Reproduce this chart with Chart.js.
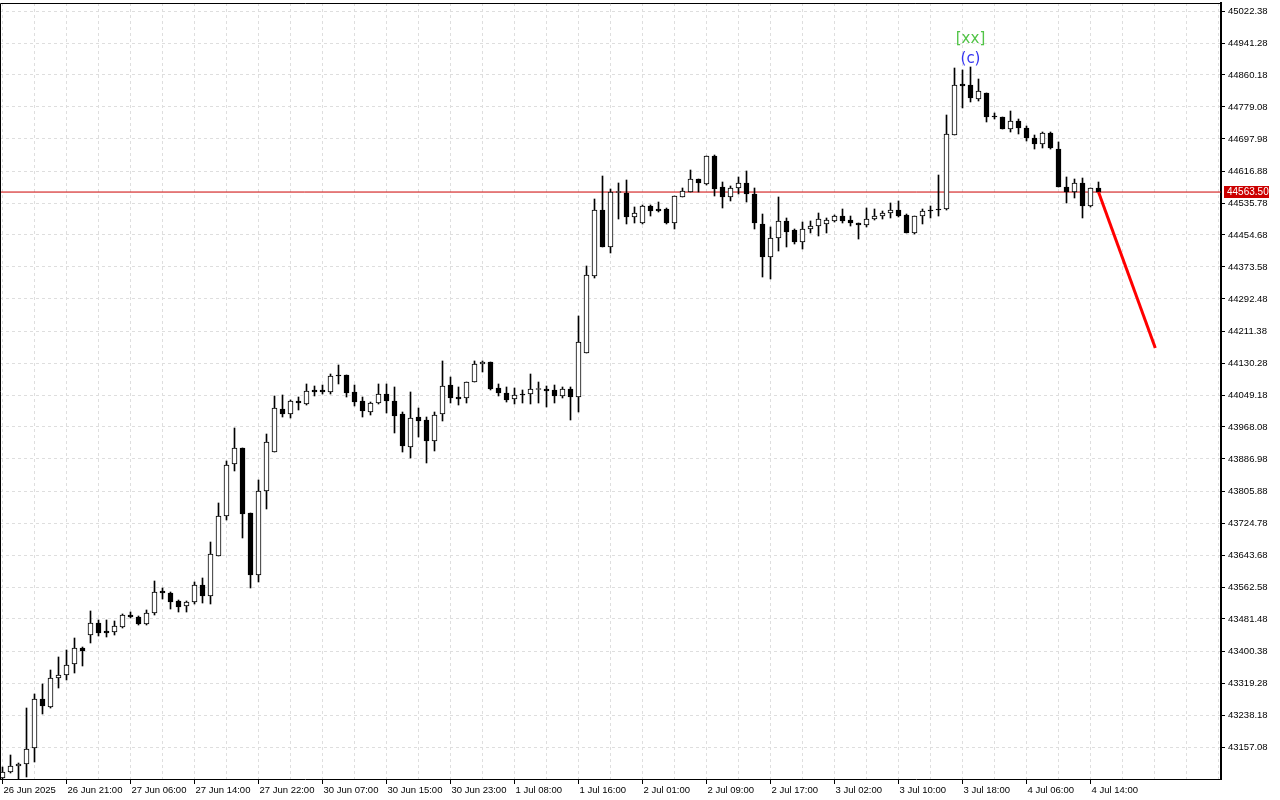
<!DOCTYPE html>
<html>
<head>
<meta charset="utf-8">
<script src="https://cdn.jsdelivr.net/npm/chart.js@4.4.1/dist/chart.umd.min.js"></script>
<style>
  html, body { margin: 0; padding: 0; background: #fff; }
</style>
</head>
<body>
<canvas id="chart" width="1280" height="800"></canvas>
<script>
// hourly bars, US30 26 Jun - 4 Jul 2025
const opens = [
  43078.5, 43093.7, 43108.9, 43114.0, 43154.6, 43278.7, 43258.5, 43332.0, 43339.6, 43367.4,
  43408.0, 43440.9, 43471.3, 43451.1, 43448.5, 43461.2, 43491.6, 43486.6, 43468.8, 43496.7,
  43552.4, 43547.4, 43527.1, 43514.4, 43524.6, 43567.7, 43539.8, 43641.2, 43742.5, 43874.3,
  43914.9, 43750.1, 43593.0, 43805.9, 43904.7, 44013.7, 44001.0, 44034.0, 44026.4, 44061.9,
  44061.9, 44056.8, 44099.9, 44099.9, 44056.8, 44034.0, 44006.1, 44028.9, 44051.7, 44034.0,
  44001.0, 43917.4, 43993.4, 43985.8, 43932.6, 44001.0, 44074.5, 44044.1, 44041.6, 44082.1,
  44127.8, 44132.8, 44066.9, 44054.3, 44039.0, 44051.7, 44051.7, 44063.1, 44064.4, 44061.9,
  44046.7, 44064.4, 44044.1, 44155.6, 44350.8, 44518.0, 44424.3, 44562.4, 44561.1, 44500.3,
  44485.1, 44528.2, 44520.6, 44520.6, 44485.1, 44551.0, 44563.7, 44596.6, 44583.9, 44654.9,
  44576.3, 44551.0, 44573.8, 44586.5, 44558.6, 44482.6, 44398.9, 44447.1, 44490.2, 44467.4,
  44436.9, 44469.9, 44477.5, 44482.6, 44490.2, 44502.8, 44492.7, 44485.1, 44480.0, 44495.2,
  44502.8, 44510.4, 44518.0, 44505.4, 44459.8, 44502.8, 44518.0, 44520.6, 44520.6, 44708.1,
  44837.4, 44834.8, 44799.4, 44814.6, 44756.3, 44753.7, 44723.3, 44743.6, 44725.9, 44700.5,
  44685.3, 44713.2, 44672.6, 44576.3, 44563.7, 44586.5, 44528.2, 44573.8
];
const highs = [
  43106.4, 43136.8, 43116.5, 43255.9, 43291.4, 43316.8, 43352.2, 43385.2, 43402.9, 43433.3,
  43410.5, 43501.8, 43479.0, 43479.0, 43476.4, 43494.2, 43499.2, 43489.1, 43504.3, 43577.8,
  43560.1, 43549.9, 43529.6, 43527.1, 43575.3, 43585.4, 43676.6, 43775.5, 43881.9, 43965.6,
  43914.9, 43750.1, 43833.8, 43950.3, 44046.7, 44049.2, 44036.5, 44044.1, 44077.1, 44072.0,
  44074.5, 44102.4, 44125.2, 44099.9, 44074.5, 44044.1, 44031.4, 44077.1, 44077.1, 44069.5,
  44006.1, 44056.8, 44016.2, 43993.4, 44006.1, 44135.4, 44094.8, 44069.5, 44082.1, 44135.4,
  44135.4, 44132.8, 44077.1, 44069.5, 44066.9, 44061.9, 44102.4, 44082.1, 44072.0, 44074.5,
  44069.5, 44069.5, 44249.4, 44376.1, 44545.9, 44604.2, 44571.3, 44586.5, 44594.1, 44525.7,
  44530.7, 44530.7, 44538.3, 44523.1, 44553.5, 44573.8, 44619.4, 44596.6, 44654.9, 44657.4,
  44589.0, 44578.9, 44601.7, 44616.9, 44573.8, 44507.9, 44475.0, 44551.0, 44497.8, 44469.9,
  44487.6, 44490.2, 44510.4, 44497.8, 44505.4, 44520.6, 44502.8, 44485.1, 44523.1, 44520.6,
  44515.5, 44535.8, 44540.9, 44507.9, 44502.8, 44520.6, 44528.2, 44606.7, 44758.8, 44877.9,
  44872.9, 44880.5, 44850.0, 44814.6, 44763.9, 44753.7, 44768.9, 44748.7, 44730.9, 44708.1,
  44715.7, 44715.7, 44690.4, 44601.7, 44596.6, 44599.1, 44573.8, 44589.0
];
const lows = [
  43076.0, 43091.2, 43076.0, 43081.1, 43119.1, 43240.7, 43255.9, 43306.6, 43326.9, 43344.6,
  43362.4, 43420.7, 43438.4, 43435.9, 43440.9, 43458.7, 43484.0, 43466.3, 43466.3, 43491.6,
  43532.2, 43506.8, 43499.2, 43499.2, 43519.5, 43522.0, 43519.5, 43641.2, 43732.4, 43856.6,
  43686.8, 43560.1, 43575.3, 43760.3, 43904.7, 43993.4, 43990.9, 44011.2, 44023.8, 44046.7,
  44051.7, 44051.7, 44077.1, 44044.1, 44021.3, 43993.4, 43998.5, 44026.4, 44003.6, 43952.9,
  43904.7, 43889.5, 43942.7, 43876.9, 43907.3, 43983.3, 44028.9, 44023.8, 44028.9, 44082.1,
  44107.5, 44061.9, 44046.7, 44031.4, 44026.4, 44028.9, 44026.4, 44028.9, 44018.8, 44028.9,
  44041.6, 43985.8, 44006.1, 44155.6, 44345.7, 44424.3, 44409.1, 44495.2, 44482.6, 44485.1,
  44482.6, 44502.8, 44513.0, 44482.6, 44469.9, 44551.0, 44563.7, 44563.7, 44581.4, 44553.5,
  44523.1, 44540.9, 44558.6, 44538.3, 44469.9, 44348.2, 44343.2, 44414.1, 44424.3, 44431.9,
  44419.2, 44459.8, 44452.2, 44459.8, 44487.6, 44485.1, 44477.5, 44444.5, 44475.0, 44492.7,
  44495.2, 44497.8, 44500.3, 44459.8, 44457.2, 44482.6, 44497.8, 44502.8, 44518.0, 44708.1,
  44776.6, 44791.8, 44794.3, 44741.1, 44748.7, 44723.3, 44715.7, 44710.7, 44692.9, 44672.6,
  44675.2, 44672.6, 44576.3, 44535.8, 44548.5, 44497.8, 44525.7, 44563.5
];
const closes = [
  43093.7, 43108.9, 43114.0, 43152.0, 43278.7, 43261.0, 43332.0, 43339.6, 43364.9, 43408.0,
  43400.4, 43471.3, 43446.0, 43446.0, 43463.7, 43491.6, 43486.6, 43468.8, 43496.7, 43549.9,
  43547.4, 43524.6, 43511.9, 43524.6, 43567.7, 43539.8, 43646.2, 43742.5, 43871.8, 43914.9,
  43747.6, 43593.0, 43805.9, 43930.1, 44016.2, 44001.0, 44034.0, 44028.9, 44059.3, 44056.8,
  44056.8, 44097.3, 44097.3, 44054.3, 44031.4, 44008.6, 44028.9, 44051.7, 44034.0, 43996.0,
  43919.9, 43990.9, 43983.3, 43932.6, 43998.5, 44072.0, 44041.6, 44039.0, 44082.1, 44127.8,
  44132.8, 44064.4, 44054.3, 44036.5, 44049.2, 44049.2, 44064.4, 44064.4, 44059.3, 44046.7,
  44064.4, 44044.1, 44183.5, 44353.3, 44518.0, 44424.3, 44563.7, 44563.7, 44500.3, 44510.4,
  44528.2, 44515.5, 44515.5, 44485.1, 44553.5, 44566.2, 44596.6, 44586.5, 44654.9, 44571.3,
  44551.0, 44573.8, 44586.5, 44558.6, 44485.1, 44398.9, 44447.1, 44490.2, 44462.3, 44436.9,
  44469.9, 44477.5, 44495.2, 44492.7, 44502.8, 44490.2, 44485.1, 44480.0, 44495.2, 44502.8,
  44510.4, 44518.0, 44502.8, 44459.8, 44502.8, 44515.5, 44515.5, 44518.0, 44710.7, 44834.8,
  44832.3, 44801.9, 44819.6, 44753.7, 44753.7, 44723.3, 44743.6, 44725.9, 44700.5, 44685.3,
  44713.2, 44675.2, 44576.3, 44563.7, 44586.5, 44528.2, 44573.8, 44563.5
];

// one label every 8 bars
const timeLabels = [
  '26 Jun 2025', '26 Jun 21:00', '27 Jun 06:00', '27 Jun 14:00', '27 Jun 22:00', '30 Jun 07:00',
  '30 Jun 15:00', '30 Jun 23:00', '1 Jul 08:00', '1 Jul 16:00', '2 Jul 01:00', '2 Jul 09:00',
  '2 Jul 17:00', '3 Jul 02:00', '3 Jul 10:00', '3 Jul 18:00', '4 Jul 06:00', '4 Jul 14:00'
];
const priceTicks = [
  43157.08, 43238.18, 43319.28, 43400.38, 43481.48, 43562.58, 43643.68, 43724.78,
  43805.88, 43886.98, 43968.08, 44049.18, 44130.28, 44211.38, 44292.48, 44373.58,
  44454.68, 44535.78, 44616.88, 44697.98, 44779.08, 44860.18, 44941.28, 45022.38
];
const lastPrice = 44563.50;
const forecastX = [137, 144.1];
const forecastY = [44563.5, 44168.3];
const waveBar = 121;
const waveLabel = '(c)';
const degreeLabel = '[xx]';

const bodies = opens.map((o, i) => ({ x: i, y: [o, closes[i]] }));
const wicks = lows.map((l, i) => ({ x: i, y: [l, highs[i]] }));
const bodyColors = opens.map((o, i) => closes[i] >= o ? '#ffffff' : '#000000');

const overlay = {
  id: 'overlay',
  afterDraw(chart) {
    const { ctx, chartArea: a, scales: { x, y } } = chart;
    ctx.save();
    // frame top / left
    ctx.strokeStyle = '#000';
    ctx.lineWidth = 1;
    ctx.beginPath();
    ctx.moveTo(a.left + 0.5, a.bottom);
    ctx.lineTo(a.left + 0.5, a.top + 0.5);
    ctx.lineTo(a.right, a.top + 0.5);
    ctx.stroke();
    // current price tag
    const py = Math.round(y.getPixelForValue(lastPrice));
    ctx.fillStyle = '#cc0000';
    ctx.fillRect(a.right + 3, py - 6, 45, 12);
    ctx.fillStyle = '#ffffff';
    ctx.font = '10px "Liberation Sans"';
    ctx.textBaseline = 'middle';
    ctx.textAlign = 'left';
    ctx.fillText(lastPrice.toFixed(2), a.right + 6, py + 0.5);
    // wave labels above the top
    const wx = x.getPixelForValue(waveBar);
    const wy = y.getPixelForValue(highs[waveBar]);
    ctx.textAlign = 'center';
    ctx.font = '15px "DejaVu Sans"';
    ctx.fillStyle = '#3434f0';
    ctx.fillText(waveLabel, wx, wy - 8);
    ctx.fillStyle = '#52c447';
    ctx.fillText(degreeLabel, wx, wy - 28);
    ctx.restore();
  }
};

const xTickVals = [];
for (let v = 0; v <= 152; v += 4) xTickVals.push(v);

new Chart(document.getElementById('chart').getContext('2d'), {
  type: 'bar',
  data: {
    datasets: [
      {
        type: 'line',
        data: forecastX.map((v, i) => ({ x: v, y: forecastY[i] })),
        borderColor: '#ff0000',
        borderWidth: 3,
        pointRadius: 0,
        order: 0
      },
      {
        data: bodies,
        backgroundColor: bodyColors,
        borderColor: '#000000',
        borderWidth: 1,
        borderSkipped: false,
        barThickness: 5,
        minBarLength: 1,
        grouped: false,
        order: 1
      },
      {
        data: wicks,
        backgroundColor: '#000000',
        barThickness: 1,
        grouped: false,
        order: 2
      },
      {
        type: 'line',
        data: [{ x: -1, y: lastPrice }, { x: 160, y: lastPrice }],
        borderColor: '#cc0000',
        borderWidth: 1,
        pointRadius: 0,
        order: 3
      }
    ]
  },
  options: {
    responsive: false,
    animation: false,
    devicePixelRatio: 1,
    layout: { padding: { top: 3, left: 0, right: 0, bottom: 0 } },
    plugins: {
      legend: { display: false },
      tooltip: { enabled: false }
    },
    scales: {
      x: {
        type: 'linear',
        min: -0.3125,
        max: 152.3125,
        offset: false,
        afterBuildTicks: s => { s.ticks = xTickVals.map(v => ({ value: v })); },
        afterFit: s => { s.height = 21; s.paddingLeft = 0; s.paddingRight = 0; },
        grid: {
          offset: false,
          color: '#dedede',
          tickLength: 5,
          tickColor: c => (c.tick && c.tick.label) ? '#000000' : 'rgba(0,0,0,0)'
        },
        border: { color: '#000000', width: 1, dash: [3, 3] },
        ticks: {
          autoSkip: false,
          maxRotation: 0,
          align: 'start',
          labelOffset: 1,
          padding: 1,
          color: '#000000',
          font: { family: 'Liberation Sans', size: 9.5 },
          callback: v => (v % 8 === 0 && v / 8 < timeLabels.length) ? timeLabels[v / 8] : ''
        }
      },
      y: {
        position: 'right',
        min: 43075.98,
        max: 45042.655,
        afterBuildTicks: s => { s.ticks = priceTicks.map(v => ({ value: v })); },
        afterFit: s => { s.width = 59; s.paddingTop = 0; s.paddingBottom = 0; },
        grid: {
          color: '#dedede',
          tickLength: 4,
          tickColor: '#000000'
        },
        border: { color: '#000000', width: 2, dash: [3, 3] },
        ticks: {
          padding: 3,
          color: '#000000',
          font: { family: 'Liberation Sans', size: 9.5 },
          callback: v => v.toFixed(2)
        }
      }
    }
  },
  plugins: [overlay]
});
</script>
</body>
</html>
